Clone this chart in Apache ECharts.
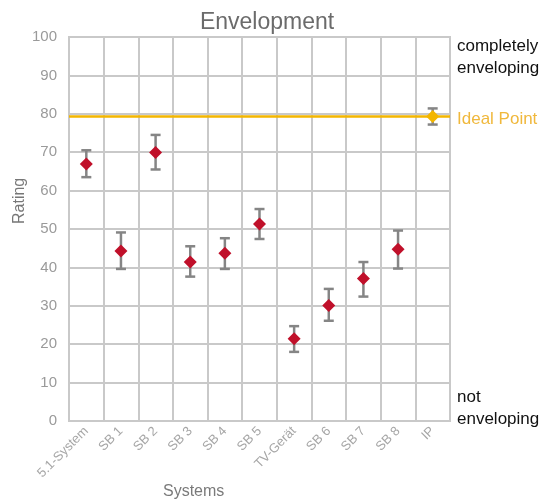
<!DOCTYPE html>
<html>
<head>
<meta charset="utf-8">
<script src="https://cdn.jsdelivr.net/npm/echarts@6/dist/echarts.min.js"></script>
<style>
  html, body { margin: 0; padding: 0; background: #fff; }
  #chart { width: 544px; height: 504px; }
</style>
</head>
<body>
<div id="chart"></div>
<script>
// Rated systems along the x axis
const categories = ['5.1-System', 'SB 1', 'SB 2', 'SB 3', 'SB 4', 'SB 5', 'TV-Gerät', 'SB 6', 'SB 7', 'SB 8', 'IP'];
// Mean rating per system, with lower / upper ends of the error bars
const means = [66.9, 44.3, 69.9, 41.4, 43.7, 51.3, 21.4, 30.1, 37.1, 44.7, 79.3];
const lows  = [63.5, 39.6, 65.5, 37.6, 39.6, 47.4, 18.0, 26.1, 32.4, 39.7, 77.2];
const highs = [70.5, 49.1, 74.5, 45.5, 47.6, 55.2, 24.7, 34.4, 41.4, 49.6, 81.4];
// Rating of the ideal point, drawn as a reference line
const idealPoint = 79.3;
// Value axis ticks
const yTicks = [0, 10, 20, 30, 40, 50, 60, 70, 80, 90, 100];

const RED = '#c0102a';
const GOLD = '#f3b600';
const GRIDC = '#c9c9c9';
const FONT = 'Liberation Sans, Arial, sans-serif';

const lastIdx = categories.length - 1;
const systemPoints = means.map((v, i) => i === lastIdx ? null : [i, v]).filter(Boolean);
const barData = means.map((v, i) => [i, lows[i], highs[i]]);

const chart = echarts.init(document.getElementById('chart'), null, { renderer: 'canvas' });

chart.setOption({
  animation: false,
  textStyle: { fontFamily: FONT },
  title: {
    text: 'Envelopment',
    left: 262, top: 6, textAlign: 'center',
    textStyle: { fontFamily: FONT, fontSize: 23, fontWeight: 'normal', color: '#6b6b6b' }
  },
  grid: {
    left: 69, right: 94, top: 37, bottom: 83,
    show: true, borderColor: GRIDC, borderWidth: 2, backgroundColor: 'transparent'
  },
  xAxis: {
    type: 'category',
    data: categories,
    boundaryGap: true,
    axisLine: { lineStyle: { color: GRIDC, width: 2 } },
    axisTick: { alignWithLabel: true, length: 4, lineStyle: { color: '#bdbdbd' } },
    axisLabel: { rotate: 45, color: '#a6a6a6', fontSize: 13, margin: 8, interval: 0 },
    splitLine: { show: true, lineStyle: { color: GRIDC, width: 2 } }
  },
  yAxis: {
    type: 'value',
    min: yTicks[0], max: yTicks[yTicks.length - 1], interval: 10,
    axisLine: { show: true, lineStyle: { color: GRIDC, width: 2 } },
    axisTick: { show: false },
    axisLabel: { color: '#9a9a9a', fontSize: 15, margin: 12 },
    splitLine: { show: true, lineStyle: { color: GRIDC, width: 2 } }
  },
  graphic: [
    { type: 'text', x: 12, y: 224, rotation: Math.PI / 2, style: { text: 'Rating', fill: '#777', font: '16px ' + FONT } },
    { type: 'text', left: 457, top: 35, style: { text: 'completely\nenveloping', fill: '#111', font: '17px ' + FONT, lineHeight: 22 } },
    { type: 'text', left: 457, top: 386, style: { text: 'not\nenveloping', fill: '#111', font: '17px ' + FONT, lineHeight: 22 } },
    { type: 'text', left: 163, top: 484, style: { text: 'Systems', fill: '#7a7a7a', font: '16px ' + FONT } }
  ],
  series: [
    {
      type: 'custom',
      name: 'range',
      z: 3,
      data: barData,
      renderItem: function (params, api) {
        const x = api.value(0);
        const lo = api.coord([x, api.value(1)]);
        const hi = api.coord([x, api.value(2)]);
        const hw = 5;
        const st = { stroke: '#858585', lineWidth: 2.5 };
        return {
          type: 'group',
          children: [
            { type: 'line', shape: { x1: hi[0], y1: hi[1], x2: lo[0], y2: lo[1] }, style: st },
            { type: 'line', shape: { x1: hi[0] - hw, y1: hi[1], x2: hi[0] + hw, y2: hi[1] }, style: st },
            { type: 'line', shape: { x1: lo[0] - hw, y1: lo[1], x2: lo[0] + hw, y2: lo[1] }, style: st }
          ]
        };
      }
    },
    {
      type: 'scatter',
      name: 'systems',
      z: 4,
      symbol: 'diamond',
      symbolSize: 13,
      itemStyle: { color: RED, opacity: 1 },
      data: systemPoints
    },
    {
      type: 'scatter',
      name: 'ideal',
      z: 4,
      symbol: 'diamond',
      symbolSize: 13,
      itemStyle: { color: GOLD, opacity: 1 },
      data: [[lastIdx, means[lastIdx]]],
      markLine: {
        silent: true,
        symbol: 'none',
        lineStyle: { color: GOLD, width: 2.5, type: 'solid' },
        label: {
          show: true, position: 'end', formatter: 'Ideal Point',
          color: '#f0b83c', fontSize: 17, distance: 7, fontFamily: FONT,
          offset: [0, 3]
        },
        data: [{ yAxis: idealPoint }]
      }
    }
  ]
});
</script>
</body>
</html>
